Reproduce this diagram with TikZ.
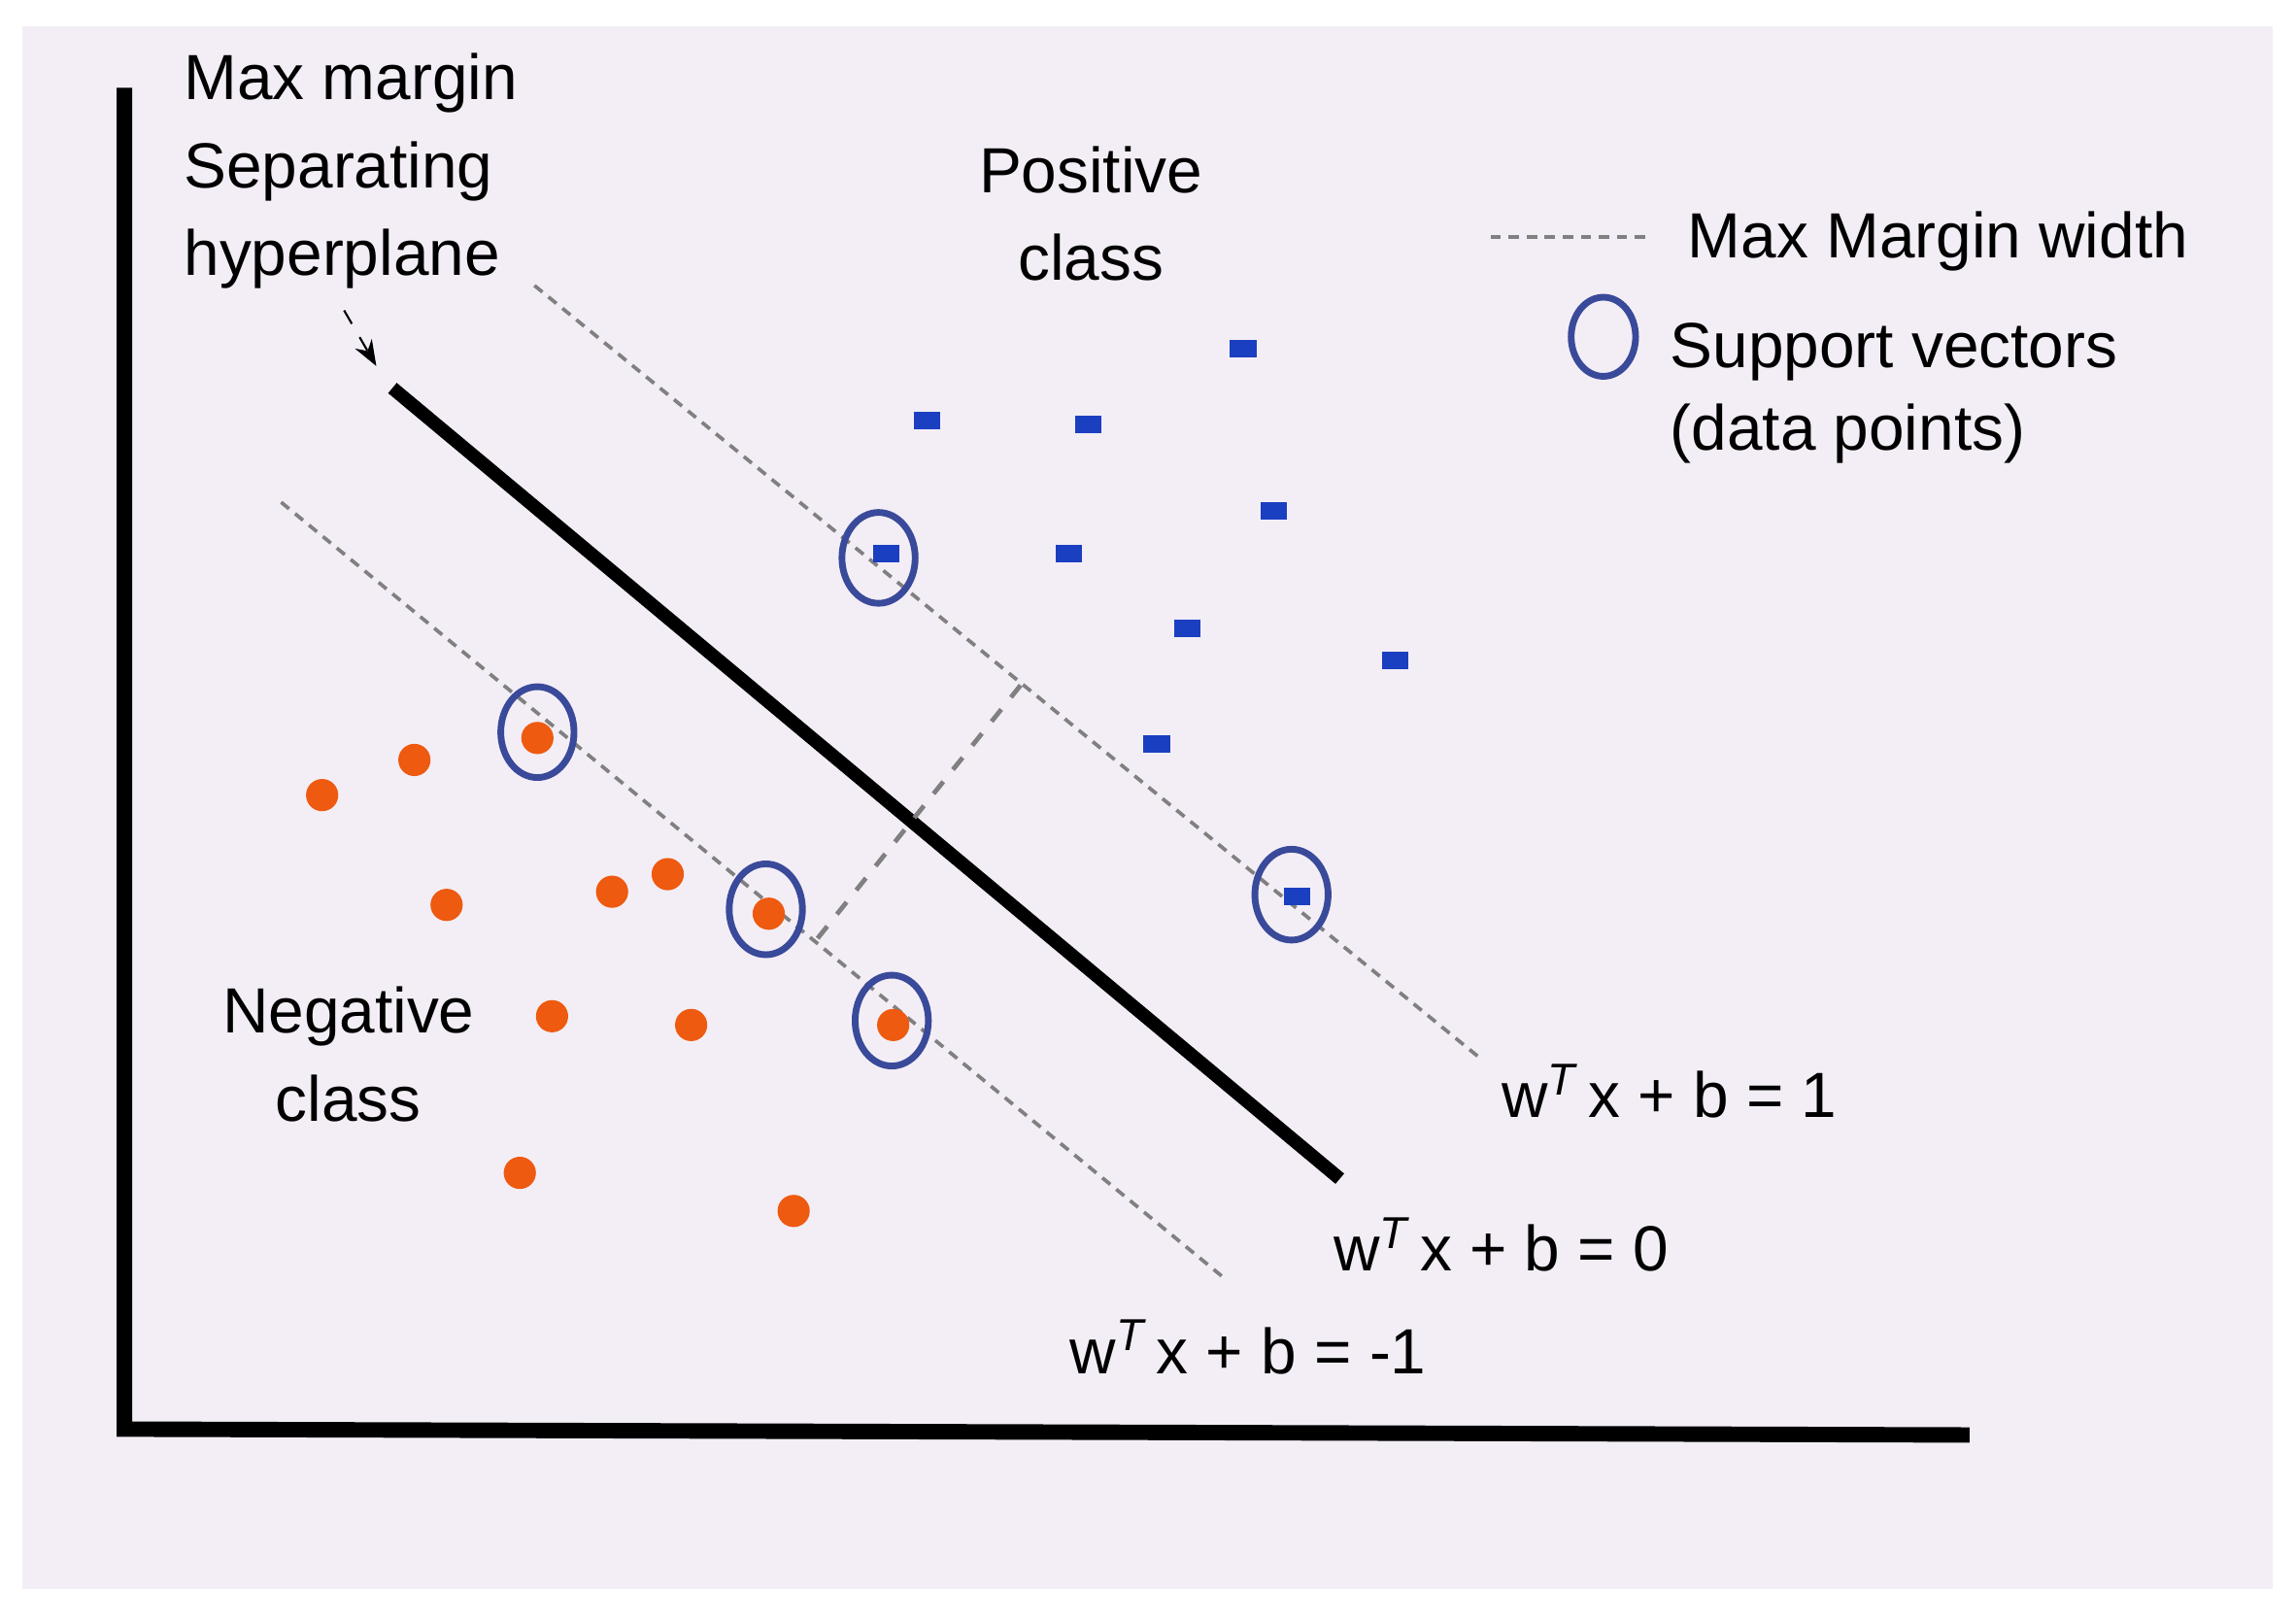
\documentclass[tikz,border=0pt]{standalone}
\usepackage{fontspec}
\setmainfont{Liberation Sans}
\usetikzlibrary{arrows.meta}
\definecolor{bg}{HTML}{F3EEF6}
\definecolor{sqblue}{HTML}{1A3FC0}
\definecolor{dotor}{HTML}{EE5A10}
\definecolor{svc}{HTML}{3A4A9A}
\tikzset{
 P/.style={x=0.01cm,y=-0.01cm},
 sq/.style={fill=sqblue,minimum width=0.18cm,minimum height=0.12cm,inner sep=0pt,draw=none,rectangle},
 dot/.style={fill=dotor,circle,minimum size=0.22cm,inner sep=0pt},
 sv/.style={draw=svc,line width=1.3pt,ellipse,minimum width=0.5cm,minimum height=0.62cm,inner sep=0pt},
 margin/.style={gray,dash pattern=on 2pt off 1.5pt,line width=0.7pt},
 lbl/.style={font=\fontsize{12.4}{15}\selectfont,inner sep=0pt},
}
\usetikzlibrary{shapes.geometric}
\begin{document}
\begin{tikzpicture}[P]
\useasboundingbox (0,0) rectangle (1568,1107);
\fill[bg] (15,18) rectangle (1552,1085);
% axes
\coordinate (top) at (85,60); \coordinate (orig) at (85,976); \coordinate (xend) at (1345,980);
\draw[line width=3pt] (top) -- (orig) -- (xend);
% margins
\coordinate (u1) at (365,195); \coordinate (u2) at (1010,722);
\coordinate (l1) at (192,343); \coordinate (l2) at (835,872);
\draw[margin] (u1) -- (u2);
\draw[margin] (l1) -- (l2);
\coordinate (h1) at (268,265); \coordinate (h2) at (915,805);
\draw[line width=2.6pt] (h1) -- (h2);
\coordinate (m1) at (697,468); \coordinate (m2) at (555,645);
\draw[gray,dashed,line width=0.9pt] (m1) -- (m2);
% points
\foreach \x/\y [count=\i] in {633/287,743/290,849/238,870/349,730/378,605/378,811/429,953/451,790/508,886/612}
  \node[sq] (s\i) at (\x,\y) {};
\foreach \x/\y [count=\i] in {220/543,283/519,367/504,305/618,418/609,456/597,525/624,377/694,472/700,610/700,355/801,542/827}
  \node[dot] (c\i) at (\x,\y) {};
\foreach \x/\y [count=\i] in {600/381,367/500,523/621,609/697,882/611}
  \node[sv] (v\i) at (\x,\y) {};
% legend
\coordinate (lg1) at (1018,162); \coordinate (lg2) at (1125,162);
\draw[margin] (lg1) -- (lg2);
\node[draw=svc,line width=1.3pt,ellipse,minimum width=0.44cm,minimum height=0.54cm,inner sep=0pt] (lgv) at (1095,230) {};
\node[lbl,anchor=west] (tmw) at (1152,165) {Max Margin width};
\node[lbl,anchor=north west,align=left] (tsv) at (1140,220) {Support vectors\\[1pt](data points)};
% texts
\node[lbl,anchor=north west,align=left] (tmm) at (125,36) {Max margin\\[2pt]Separating\\[2pt]hyperplane};
\node[lbl,align=center] (tpos) at (745,146) {Positive\\[2pt]class};
\node[lbl,align=center] (tneg) at (238,720) {Negative\\[2pt]class};
\coordinate (ar1) at (235,212); \coordinate (ar2) at (257,250);
\draw[dashed,-{Stealth[length=5pt]}] (ar1) -- (ar2);
\node[lbl,anchor=west] (e1) at (1025,745) {w\textsuperscript{\itshape T}\,x + b = 1};
\node[lbl,anchor=west] (e0) at (910,850) {w\textsuperscript{\itshape T}\,x + b = 0};
\node[lbl,anchor=west] (em) at (730,920) {w\textsuperscript{\itshape T}\,x + b = -1};
\end{tikzpicture}
\end{document}
